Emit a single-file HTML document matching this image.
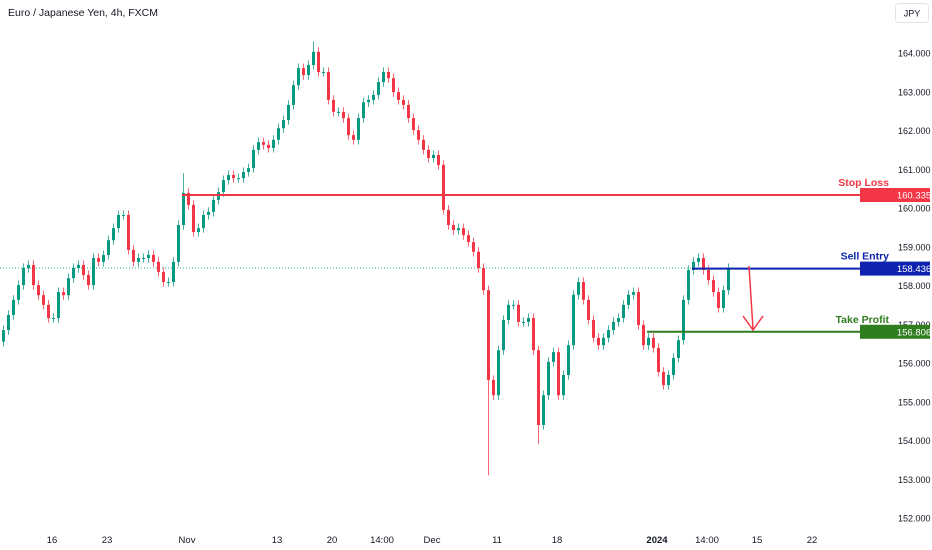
<!DOCTYPE html>
<html><head><meta charset="utf-8">
<style>
html,body{margin:0;padding:0;background:#fff;width:932px;height:550px;overflow:hidden}
svg{display:block;font-family:"Liberation Sans",sans-serif}
</style></head>
<body>
<svg id="chart" width="932" height="550" viewBox="0 0 932 550">
  <text x="8" y="16" font-size="10.5" fill="#131722">Euro / Japanese Yen, 4h, FXCM</text>
  <g>
    <rect x="895.5" y="3.5" width="33" height="19" rx="3" fill="#fff" stroke="#e0e3eb"/>
    <text x="912" y="16.5" font-size="9" fill="#131722" text-anchor="middle">JPY</text>
  </g>
  <g id="yaxis"></g>
  <g id="xaxis"></g>
  <line x1="0" x2="858" y1="268" y2="268" stroke="#22ab94" stroke-width="1" stroke-dasharray="1,2"/>
  <g id="candles"></g>
  <g id="levels"></g>
  <g stroke="#f23645" stroke-width="1.5" fill="none">
    <line x1="749" y1="266" x2="753" y2="329"/>
    <polyline points="743,316 753,330 763,316"/>
  </g>
</svg>
<script>
const closes=[156.85,157.24,157.63,158.01,158.45,158.53,158.01,157.75,157.50,157.16,157.16,157.83,157.75,158.19,158.45,158.53,158.27,158.01,158.71,158.61,158.79,159.17,159.48,159.82,159.82,158.92,158.61,158.71,158.71,158.79,158.61,158.35,158.09,158.09,158.61,159.56,160.39,160.08,159.38,159.48,159.82,159.90,160.21,160.41,160.72,160.85,160.77,160.77,160.93,161.03,161.50,161.70,161.63,161.55,161.76,162.06,162.27,162.66,163.17,163.61,163.43,163.69,164.03,163.51,163.51,162.79,162.48,162.48,162.32,161.88,161.76,162.32,162.73,162.79,162.92,163.25,163.51,163.35,162.99,162.79,162.66,162.32,162.01,161.76,161.50,161.29,161.37,161.11,159.95,159.56,159.43,159.48,159.30,159.12,158.87,158.45,157.88,155.56,155.17,156.33,157.11,157.50,157.50,157.06,157.06,157.16,156.33,154.40,155.17,156.03,156.28,155.17,155.69,156.46,157.76,158.09,157.63,157.11,156.65,156.46,156.65,156.85,157.06,157.16,157.50,157.76,157.83,156.98,156.46,156.65,156.39,155.77,155.43,155.69,156.13,156.59,157.63,158.40,158.61,158.71,158.40,158.14,157.83,157.42,157.88,158.45];
const firstOpen=156.55;
const spikeIdx=[97,107,62,36];
const spikeVal=[153.1,153.9,164.3,160.9];
const priceTicks=[164,163,162,161,160,159,158,157,156,155,154,153,152];
const timeLabels=["16","23","Nov","13","20","14:00","Dec","11","18","2024","14:00","15","22"];
const timeIdx=[10,21,37,55,66,76,86,99,111,131,141,151,162];
const levelNames=["Stop Loss","Sell Entry","Take Profit"];
const levelPrices=[160.335,158.436,156.806];
const levelStartIdx=[36,138,129];
const levelColors=["#f23645","#0d23b0","#2e7d1e"];

const NS="http://www.w3.org/2000/svg";
function yS(p){return 53+(164-p)*38.75;}
function xS(i){return 2+5*i;}
function mk(t,a,parent){const e=document.createElementNS(NS,t);for(const k in a)e.setAttribute(k,a[k]);parent.appendChild(e);return e;}

const ya=document.getElementById('yaxis');
priceTicks.forEach(p=>{
  const t=mk('text',{x:898,y:yS(p)+3.5,'font-size':9,fill:'#131722'},ya);
  t.textContent=p.toFixed(3);
  
  
});
const xa=document.getElementById('xaxis');
timeLabels.forEach((l,k)=>{
  const t=mk('text',{x:xS(timeIdx[k]),y:543,'font-size':9.5,fill:'#131722','text-anchor':'middle','font-weight':l==="2024"?'bold':'normal'},xa);
  t.textContent=l;
  
  
});

const cg=document.getElementById('candles');
closes.forEach((c,i)=>{
  const o=i===0?firstOpen:closes[i-1];
  const up=c>=o;
  const col=up?'#089981':'#f23645';
  let hi=Math.max(o,c)+0.12, lo=Math.min(o,c)-0.12;
  const s=spikeIdx.indexOf(i);
  if(s>=0){if(spikeVal[s]<lo)lo=spikeVal[s];else hi=spikeVal[s];}
  const x=xS(i);
  const w=mk('line',{x1:x+1.5,x2:x+1.5,y1:yS(hi),y2:yS(lo),stroke:col,'stroke-width':1,opacity:0.75},cg);
  
  
  const yt=yS(Math.max(o,c)), yb=yS(Math.min(o,c));
  const b=mk('rect',{x:x,y:yt,width:3,height:Math.max(1,yb-yt),fill:col},cg);
  
  
});

const lg=document.getElementById('levels');
levelNames.forEach((n,k)=>{
  const y=yS(levelPrices[k]);
  const ln=mk('line',{x1:xS(levelStartIdx[k]),x2:860,y1:y,y2:y,stroke:levelColors[k],'stroke-width':2},lg);
  
  
  const tx=mk('text',{x:889,y:y-5-4,'font-size':10.5,'font-weight':'bold',fill:levelColors[k],'text-anchor':'end'},lg);
  tx.textContent=n;
  
  
  const bx=mk('rect',{x:860,y:y-7,width:70,height:14,fill:levelColors[k]},lg);
  
  
  const pt=mk('text',{x:914,y:y+3.5,'font-size':9.5,fill:'#fff','text-anchor':'middle'},lg);
  pt.textContent=levelPrices[k].toFixed(3);
  
  
});
</script>
</body></html>
